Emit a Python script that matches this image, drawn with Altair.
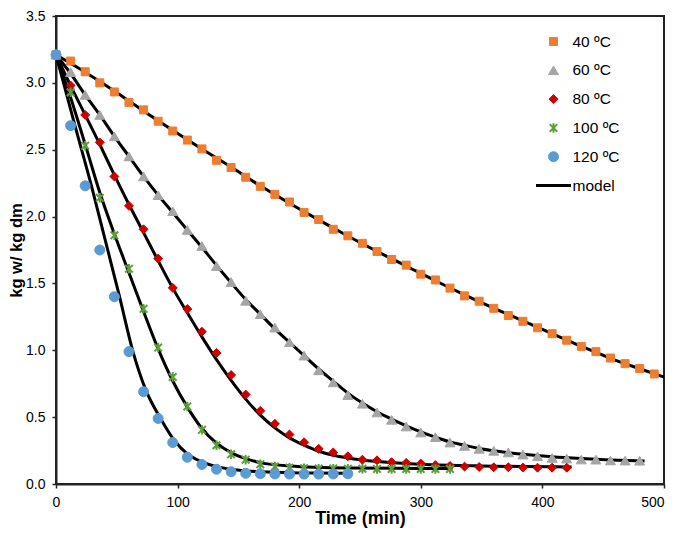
import altair as alt
import pandas as pd

# ---------------- data ----------------
series = ["40 ºC", "60 ºC", "80 ºC", "100 ºC", "120 ºC"]
colors = ["#ED7D31", "#A5A5A5", "#CC0000", "#5E9E3A", "#5B9BD5"]

t40 = list(range(0, 493, 12))
y40 = [3.21, 3.163, 3.083, 3.000, 2.932, 2.854, 2.798, 2.713, 2.640, 2.572, 2.506,
       2.421, 2.367, 2.294, 2.226, 2.166, 2.109, 2.031, 1.978, 1.905, 1.856, 1.800,
       1.739, 1.679, 1.637, 1.569, 1.526, 1.465, 1.407, 1.367, 1.314, 1.260, 1.217,
       1.168, 1.124, 1.075, 1.029, 0.990, 0.942, 0.900, 0.864, 0.823]

t60 = list(range(0, 481, 12))
y60 = [3.21, 3.08, 2.91, 2.76, 2.60, 2.45, 2.30, 2.16, 2.04, 1.90, 1.78, 1.63, 1.51,
       1.37, 1.27, 1.17, 1.06, 0.96, 0.85, 0.76, 0.665, 0.60, 0.535, 0.48, 0.43, 0.385,
       0.35, 0.31, 0.285, 0.263, 0.248, 0.236, 0.22, 0.207, 0.195, 0.19, 0.183, 0.182,
       0.176, 0.175, 0.174]

t80 = list(range(0, 421, 12))
y80 = [3.21, 2.98, 2.76, 2.555, 2.30, 2.08, 1.905, 1.686, 1.467, 1.309, 1.139, 0.98,
       0.815, 0.669, 0.547, 0.45, 0.37, 0.312, 0.263, 0.236, 0.207, 0.182, 0.177, 0.163,
       0.158, 0.153, 0.141, 0.135, 0.13, 0.127, 0.125, 0.125, 0.123, 0.122, 0.122, 0.122]

t100 = list(range(0, 325, 12))
y100 = [3.21, 2.93, 2.53, 2.14, 1.86, 1.61, 1.31, 1.02, 0.80, 0.58, 0.405, 0.29, 0.222,
        0.182, 0.148, 0.13, 0.122, 0.117, 0.115, 0.115, 0.114, 0.114, 0.113, 0.112,
        0.112, 0.112, 0.112, 0.113]

t120 = list(range(0, 241, 12))
y120 = [3.21, 2.68, 2.23, 1.75, 1.40, 0.99, 0.69, 0.49, 0.31, 0.20, 0.146, 0.11, 0.092,
        0.08, 0.077, 0.075, 0.074, 0.074, 0.074, 0.075, 0.077]

# model curves
m40_t = [0, 24, 48, 72, 96, 120, 144, 168, 192, 216, 240, 264, 288, 312, 336, 360, 384,
         408, 432, 456, 480, 500]
m40_y = [3.21, 3.08, 2.94, 2.79, 2.645, 2.505, 2.37, 2.23, 2.10, 1.975, 1.855, 1.74,
         1.63, 1.52, 1.415, 1.315, 1.22, 1.125, 1.03, 0.94, 0.862, 0.80]

m60_t = [0, 12, 24, 36, 48, 60, 72, 84, 96, 108, 120, 132, 144, 156, 168, 180, 192, 204,
         216, 228, 240, 252, 264, 276, 288, 300, 312, 324, 336, 348, 360, 384, 408, 432,
         456, 484]
m60_y = [3.21, 3.07, 2.91, 2.76, 2.60, 2.45, 2.30, 2.16, 2.03, 1.90, 1.77, 1.635, 1.505,
         1.38, 1.27, 1.16, 1.06, 0.96, 0.86, 0.77, 0.68, 0.605, 0.54, 0.485, 0.435, 0.39,
         0.35, 0.315, 0.29, 0.265, 0.248, 0.222, 0.203, 0.19, 0.18, 0.172]

m80_t = [0, 12, 24, 36, 48, 60, 72, 84, 96, 108, 120, 132, 144, 156, 168, 180, 192, 204,
         216, 228, 240, 264, 300, 350, 424]
m80_y = [3.21, 2.98, 2.76, 2.54, 2.31, 2.09, 1.88, 1.67, 1.465, 1.28, 1.10, 0.93, 0.775,
         0.635, 0.515, 0.42, 0.345, 0.29, 0.245, 0.215, 0.195, 0.168, 0.148, 0.135, 0.128]

m100_t = [0, 12, 24, 36, 48, 60, 72, 84, 96, 108, 120, 132, 144, 156, 168, 192, 240, 280, 326]
m100_y = [3.21, 2.89, 2.54, 2.18, 1.87, 1.58, 1.29, 1.01, 0.77, 0.575, 0.415, 0.305, 0.235,
          0.19, 0.16, 0.135, 0.12, 0.117, 0.115]

m120_t = [0, 15, 30, 42, 52, 63, 74, 86, 97, 108, 120, 132, 144, 156, 180, 210, 240]
m120_y = [3.21, 2.70, 2.20, 1.77, 1.41, 1.00, 0.70, 0.49, 0.33, 0.225, 0.165, 0.13, 0.11,
          0.098, 0.088, 0.082, 0.08]

x_ticks = [0, 100, 200, 300, 400, 500]
y_ticks = [0.0, 0.5, 1.0, 1.5, 2.0, 2.5, 3.0, 3.5]

# ---------------- tables ----------------
pts = []
for name, ts, ys in zip(series, [t40, t60, t80, t100, t120], [y40, y60, y80, y100, y120]):
    for t, y in zip(ts, ys):
        pts.append({"t": t, "y": y, "kind": name})
pts = pd.DataFrame(pts)

mod = []
for name, ts, ys in zip(series, [m40_t, m60_t, m80_t, m100_t, m120_t],
                        [m40_y, m60_y, m80_y, m100_y, m120_y]):
    for t, y in zip(ts, ys):
        mod.append({"t": t, "y": y, "curve": name})
mod = pd.DataFrame(mod)

domain = series + ["model"]
star = "M-0.8,-0.8L0.8,0.8M-0.8,0.8L0.8,-0.8M0,-1L0,1"
shapes = ["square", "triangle-up", "diamond", star, "circle", "stroke"]
sizes = [64, 100, 80, 90, 100, 1225]
widths = [1, 1, 1, 2, 1, 3]
cols = colors + ["black"]

FONT = "Liberation Sans"
leg = alt.Legend(orient="none", legendX=478.5, legendY=18.5, title=None,
                 labelFontSize=15.5, labelFont=FONT, labelColor="black",
                 clipHeight=14, rowPadding=12.8, labelOffset=0, symbolOpacity=1)

x = alt.X("t:Q", scale=alt.Scale(domain=[0, 500], nice=False),
          axis=alt.Axis(values=x_ticks, title="Time (min)",
                        labelAlign={"condition": {"test": "datum.value == 500", "value": "right"},
                                    "value": "center"}))
y = alt.Y("y:Q", scale=alt.Scale(domain=[0, 3.5], nice=False),
          axis=alt.Axis(values=y_ticks, format=".1f", title="kg w/ kg dm",
                        titleX=-32, titleBaseline="bottom", titleFontSize=16.5))

lines = alt.Chart(mod).mark_line(color="black", strokeWidth=3, interpolate="monotone").encode(
    x=x, y=y, detail="curve:N", order="t:Q")

points = alt.Chart(pts).mark_point(filled=True, opacity=1).encode(
    x=x, y=y,
    fill=alt.Fill("kind:N", scale=alt.Scale(domain=domain, range=cols), legend=leg),
    stroke=alt.Stroke("kind:N", scale=alt.Scale(domain=domain, range=cols), legend=leg),
    shape=alt.Shape("kind:N", scale=alt.Scale(domain=domain, range=shapes), legend=leg),
    size=alt.Size("kind:N", scale=alt.Scale(type="ordinal", domain=domain, range=sizes), legend=leg),
    strokeWidth=alt.StrokeWidth("kind:N", scale=alt.Scale(type="ordinal", domain=domain, range=widths),
                                legend=leg),
)

chart = alt.layer(lines, points).properties(
    width=608, height=468,
    autosize=alt.AutoSizeParams(type="none"),
    padding={"left": 48, "top": 8, "right": 5, "bottom": 46},
    background="white",
).configure_view(stroke="#222222", strokeWidth=2).configure_axis(
    grid=False, domainColor="#222222", domainWidth=2, tickColor="#222222", tickWidth=1.5,
    tickSize=4, labelFont=FONT, labelFontSize=14, labelColor="black", labelPadding=7,
    titleFont=FONT, titleFontSize=18, titleFontWeight="bold", titleColor="black",
).configure_axisX(titlePadding=0)

chart.save("out.html", embed_options={"renderer": "svg", "actions": False})
